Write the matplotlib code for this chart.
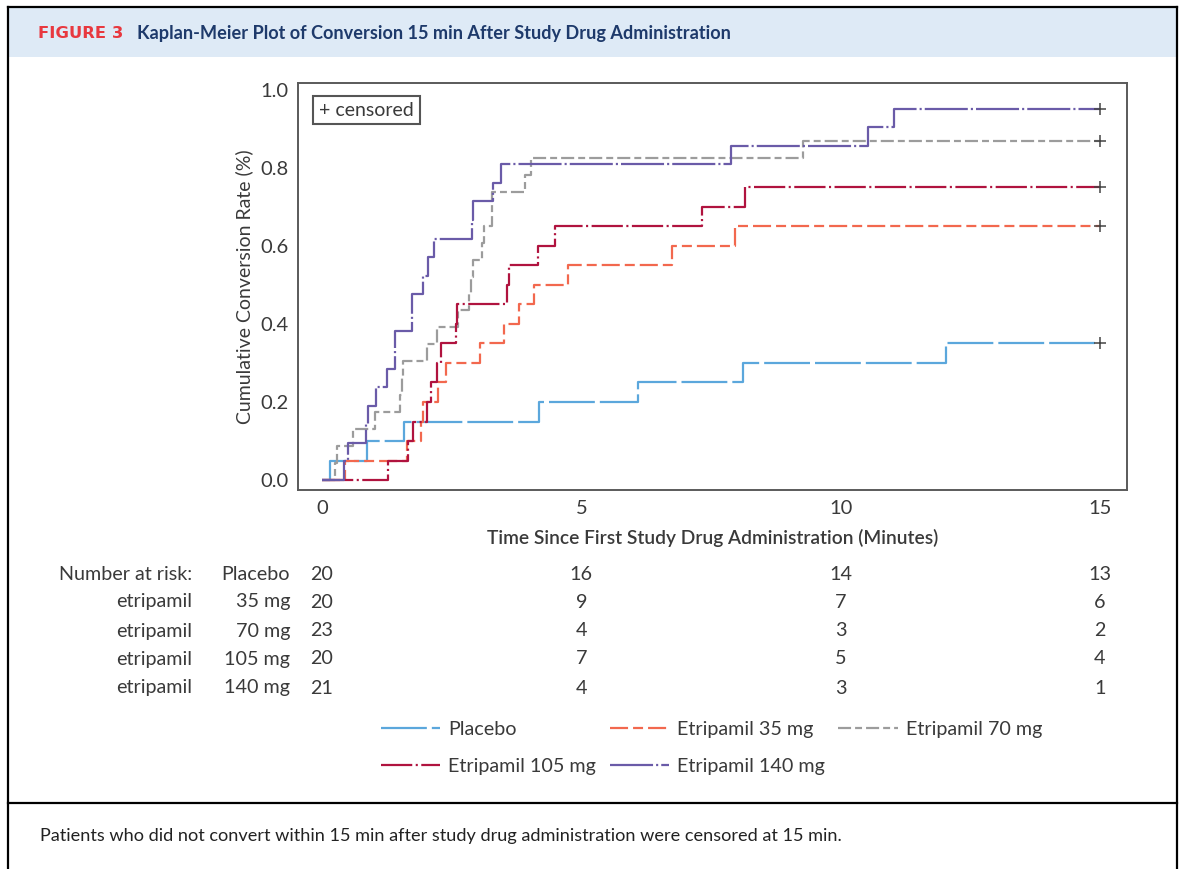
import matplotlib
matplotlib.use("Agg")
import matplotlib.pyplot as plt
from matplotlib.lines import Line2D
from matplotlib.patches import Rectangle
from matplotlib.transforms import blended_transform_factory

plt.rcParams['font.family'] = ['Lato', 'DejaVu Sans']
plt.rcParams['lines.scale_dashes'] = False

# ---- data -------------------------------------------------------------
group_labels = ["Placebo", "Etripamil 35 mg", "Etripamil 70 mg",
                "Etripamil 105 mg", "Etripamil 140 mg"]
group_sizes = [20, 20, 23, 20, 21]

# conversion times (minutes) for each group; everyone else censored at 15 min
placebo_times = [0.15, 0.87, 1.59, 4.18, 6.10, 8.12, 12.04]
etr35_times = [0.44, 1.64, 1.90, 1.94, 2.24, 2.40, 3.05, 3.50, 3.79, 4.08,
               4.75, 6.74, 7.97]
etr70_times = [0.25, 0.28, 0.60, 1.02, 1.50, 1.54, 1.57, 2.03, 2.21, 2.62,
               2.84, 2.87, 2.92, 3.08, 3.13, 3.27, 3.27, 3.91, 4.02, 9.27]
etr105_times = [1.28, 1.66, 1.76, 2.02, 2.11, 2.22, 2.30, 2.58, 2.60, 3.56,
                3.61, 4.17, 4.49, 7.32, 8.16]
etr140_times = [0.42, 0.50, 0.84, 0.88, 1.04, 1.26, 1.41, 1.41, 1.73, 1.73,
                1.95, 2.05, 2.15, 2.89, 2.92, 3.29, 3.45, 7.89, 10.53, 11.03]
censor_time = 15

# number at risk
risk_times = [0, 5, 10, 15]
risk_placebo = [20, 16, 14, 13]
risk_35 = [20, 9, 7, 6]
risk_70 = [23, 4, 3, 2]
risk_105 = [20, 7, 5, 4]
risk_140 = [21, 4, 3, 1]
risk_row_names = ["Placebo", "35 mg", "70 mg", "105 mg", "140 mg"]

x_ticks = [0, 5, 10, 15]
y_ticks = [0.0, 0.2, 0.4, 0.6, 0.8, 1.0]

# ---- styles -----------------------------------------------------------
colors = ["#5BA7DC", "#F2684E", "#9C9C9C", "#B0133F", "#6A5BA8"]
dash_patterns = [(33, 3.6), (13, 3.6, 7.2, 3.6), (9.4, 2.9, 5, 2.9),
                 (22.5, 2.5, 1.5, 2.5), (31, 2.2, 1.5, 2.2)]
text_color = "#3A3A3A"

W, H = 1181, 869
fig = plt.figure(figsize=(W / 100, H / 100), dpi=100)


def fx(px):
    return px / W


def fy(py):
    return 1 - py / H


# header band and frame
fig.patches.append(Rectangle((fx(8), fy(57)), fx(1169), 49 / H,
                             transform=fig.transFigure, facecolor="#DEEAF6",
                             edgecolor="none", zorder=0))
for xs, ys in [((8, 8), (7, 869)), ((1177, 1177), (7, 869)),
               ((8, 1177), (7, 7)), ((8, 1177), (803, 803))]:
    fig.add_artist(Line2D([fx(xs[0]), fx(xs[1])], [fy(ys[0]), fy(ys[1])],
                          transform=fig.transFigure, color="black", lw=1.6))

fig.text(fx(38), fy(33), "FIGURE 3", color="#E8383F", fontsize=11.8,
         fontweight="bold", va="center", ha="left",
         family=["DejaVu Sans"])
fig.text(fx(137), fy(33),
         "Kaplan-Meier Plot of Conversion 15 min After Study Drug Administration",
         color="#1E3A6B", fontsize=13.05, fontweight="bold", va="center",
         ha="left")

# ---- axes -------------------------------------------------------------
ax = fig.add_axes([fx(298), fy(490), fx(1127 - 298), (490 - 83) / H])
x_per_min = (1100 - 322) / 15
ax.set_xlim(-(322 - 298) / x_per_min, 15 + (1127 - 1100) / x_per_min)
ax.set_ylim(-(490 - 480) / 390, (480 - 83) / 390)

all_times = [placebo_times, etr35_times, etr70_times, etr105_times, etr140_times]
handles = []
for times, n, col, dash, lab in zip(all_times, group_sizes, colors,
                                    dash_patterns, group_labels):
    t = [0] + sorted(times) + [censor_time]
    cum = [0] + [(k + 1) / n for k in range(len(times))]
    cum = cum + [cum[-1]]
    line, = ax.step(t, cum, where="post", color=col, lw=1.6, label=lab)
    line.set_dashes(dash)
    ax.plot([censor_time], [cum[-1]], marker="+", color="#444444",
            markersize=8.5, mew=1.1, linestyle="none", zorder=5)
    h = Line2D([], [], color=col, lw=1.6)
    h.set_dashes(dash)
    handles.append(h)

ax.set_xticks(x_ticks)
ax.set_xticklabels([str(v) for v in x_ticks])
ax.set_yticks(y_ticks)
ax.set_yticklabels([f"{v:.1f}" for v in y_ticks])
ax.tick_params(length=0, labelsize=14.5, labelcolor=text_color, pad=7)
for s in ax.spines.values():
    s.set_color("#5A5A5A")
    s.set_linewidth(1.4)

ax.set_ylabel("Cumulative Conversion Rate (%)", fontsize=14, color=text_color,
              labelpad=5)
ax.set_xlabel("Time Since First Study Drug Administration (Minutes)",
              fontsize=13.8, color=text_color, fontweight="semibold",
              labelpad=9)

fig.text(fx(366.5), fy(110), "+ censored", fontsize=14, color=text_color,
         ha="center", va="center",
         bbox=dict(boxstyle="square,pad=0.3", facecolor="white",
                   edgecolor="#555555", lw=1.5))

# ---- number at risk table --------------------------------------------
tr = blended_transform_factory(ax.transData, fig.transFigure)
risk_rows = [risk_placebo, risk_35, risk_70, risk_105, risk_140]
row_y = [574, 602, 631, 659, 688]
for i, (vals, name, py) in enumerate(zip(risk_rows, risk_row_names, row_y)):
    first = "Number at risk:" if i == 0 else "etripamil"
    fig.text(fx(192), fy(py), first, ha="right", va="center", fontsize=14.2,
             color=text_color)
    fig.text(fx(290), fy(py), name, ha="right", va="center", fontsize=14.2,
             color=text_color)
    for tt, v in zip(risk_times, vals):
        ax.text(tt, fy(py), str(v), transform=tr, ha="center", va="center",
                fontsize=14.2, color=text_color, clip_on=False)

# ---- legend -----------------------------------------------------------
order = [0, 3, 1, 4, 2]
leg = fig.legend([handles[i] for i in order], [group_labels[i] for i in order],
                 ncol=3, loc="upper left", bbox_to_anchor=(fx(381), fy(721)),
                 frameon=False, fontsize=14.2, handlelength=3.0,
                 handletextpad=0.4, columnspacing=0.7, labelspacing=1.0,
                 borderaxespad=0, borderpad=0)
for txt in leg.get_texts():
    txt.set_color(text_color)

fig.text(fx(40), fy(836),
         "Patients who did not convert within 15 min after study drug "
         "administration were censored at 15 min.",
         fontsize=13.1, color="#222222", ha="left", va="center")

fig.savefig("out.png", dpi=100)
